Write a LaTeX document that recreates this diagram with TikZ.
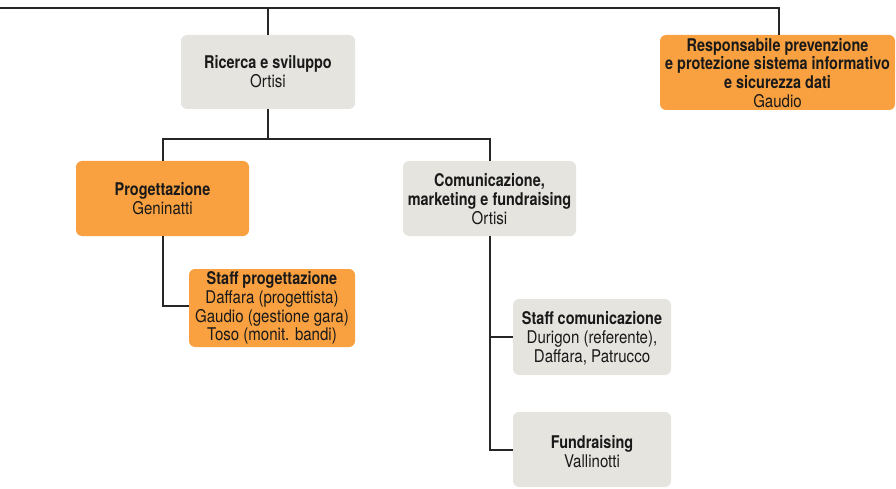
\documentclass[tikz,border=0pt]{standalone}
\usepackage{fontspec}
\setmainfont{TeX Gyre Heros}[FakeStretch=0.86,BoldFeatures={FakeStretch=0.825}]
\begin{document}
\begin{tikzpicture}[x=1pt,y=-1pt,
  every node/.style={font=\fontsize{17.5}{18.8}\selectfont, text=black!90, align=center, inner sep=0pt},
  gbox/.style={fill=boxgray, rounded corners=6pt},
  obox/.style={fill=boxorange, rounded corners=6pt},
  link/.style={draw=black!85, line width=1.3pt}]
\definecolor{boxgray}{HTML}{E5E4DF}
\definecolor{boxorange}{HTML}{F9A140}
\useasboundingbox (0,0) rectangle (896,489);
% boxes
\path[gbox] (181,35) rectangle (355,109); \node (ric) at (268,72) {\textbf{Ricerca e sviluppo}\\Ortisi};
\path[obox] (660,35) rectangle (895,110); \node (resp) at (777.5,73) {\textbf{Responsabile prevenzione}\\\textbf{e protezione sistema informativo}\\\textbf{e sicurezza dati}\\Gaudio};
\path[obox] (76,161) rectangle (249,236); \node (prog) at (162.5,199) {\textbf{Progettazione}\\Geninatti};
\path[gbox] (403,161) rectangle (576,236); \node (com) at (489.5,199) {\textbf{Comunicazione,}\\\textbf{marketing e fundraising}\\Ortisi};
\path[obox] (189,269) rectangle (355,347); \node (sprog) at (272,308) {\textbf{Staff progettazione}\\Daffara (progettista)\\Gaudio (gestione gara)\\Toso (monit. bandi)};
\path[gbox] (513,299) rectangle (671,375); \node (scom) at (592,338) {\textbf{Staff comunicazione}\\Durigon (referente),\\Daffara, Patrucco};
\path[gbox] (513,412) rectangle (671,487); \node (fund) at (592,452) {\textbf{Fundraising}\\Vallinotti};
% coordinates
\coordinate (tl) at (0,8);
\coordinate (tr) at (779,8);
\coordinate (rt) at (268,8);
\coordinate (rb) at (268,109);
\coordinate (rr) at (779,35);
\coordinate (rtop) at (268,35);
\coordinate (mid) at (268,139);
\coordinate (pl) at (163,139);
\coordinate (pr) at (490,139);
\coordinate (ptop) at (163,161);
\coordinate (ctop) at (490,161);
\coordinate (pbot) at (163,236);
\coordinate (spl) at (189,306);
\coordinate (cbot) at (490,236);
\coordinate (scl) at (513,337);
\coordinate (sj) at (490,337);
\coordinate (fl) at (513,450);
% connectors
\draw[link] (tl) -- (tr) -- (rr);
\draw[link] (rt) -- (rtop);
\draw[link] (rb) -- (mid);
\draw[link] (ptop) -- (pl) -- (pr) -- (ctop);
\draw[link] (pbot) |- (spl);
\draw[link] (cbot) |- (fl);
\draw[link] (sj) -- (scl);
\end{tikzpicture}
\end{document}
